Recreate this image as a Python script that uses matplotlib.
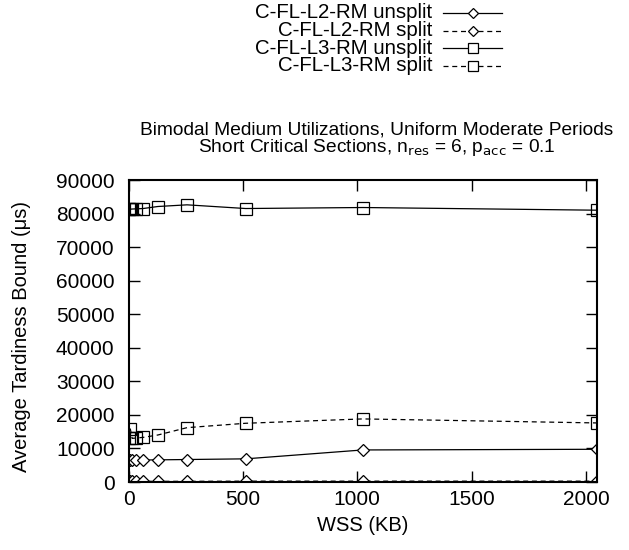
import matplotlib
matplotlib.use("Agg")
import matplotlib.pyplot as plt
from matplotlib.lines import Line2D

plt.rcParams['font.family'] = ['Liberation Sans', 'DejaVu Sans']

wss = [4, 8, 16, 32, 64, 128, 256, 512, 1024, 2048]
l2_unsplit = [6550, 6550, 6550, 6550, 6550, 6600, 6700, 6900, 9550, 9750]
l2_split = [200, 200, 200, 200, 200, 200, 200, 250, 250, 250]
l3_unsplit = [81300, 81300, 81350, 81400, 81500, 82100, 82600, 81500, 81800, 81000]
l3_split = [13000, 15800, 13000, 13100, 13300, 14000, 16200, 17500, 18800, 17600]
labels = ['C-FL-L2-RM unsplit', 'C-FL-L2-RM split', 'C-FL-L3-RM unsplit', 'C-FL-L3-RM split']

x_ticks = [0, 500, 1000, 1500, 2000]
y_ticks = [0, 10000, 20000, 30000, 40000, 50000, 60000, 70000, 80000, 90000]

W, H = 629, 550
fig = plt.figure(figsize=(W / 100, H / 100), dpi=100)
ax = fig.add_axes([128.5 / W, 1 - 482 / H, (597 - 128.5) / W, (482 - 180) / H])

FS = 15
lw = 0.9
styles = [
    dict(ls='-', marker='D', ms=6.5, mfc='white'),
    dict(ls=(0, (4, 3)), marker='D', ms=6.5, mfc='white'),
    dict(ls='-', marker='s', ms=8, mfc='none'),
    dict(ls=(0, (4, 3)), marker='s', ms=8, mfc='none'),
]
series = [l2_unsplit, l2_split, l3_unsplit, l3_split]
for ys, st, lab in zip(series, styles, labels):
    ax.plot(wss, ys, color='black', lw=lw, mec='black', mew=0.9, label=lab, **st)

ax.set_xlim(0, 2048)
ax.set_ylim(0, 90000)
ax.set_xticks(x_ticks)
ax.set_yticks(y_ticks)
ax.tick_params(direction='in', top=True, right=True, length=8, width=1, labelsize=FS)
ax.tick_params(axis='x', pad=6)
ax.tick_params(axis='y', pad=10)
for s in ax.spines.values():
    s.set_linewidth(1.5)

ax.set_xlabel('WSS (KB)', fontsize=14.5, labelpad=5)
ax.set_ylabel('Average Tardiness Bound (\u03bcs)', fontsize=14.5)
ax.yaxis.set_label_coords((31 - 128.5) / 468.5, (482 - 336.5) / 302)

# title (two lines)
TFS = 13.8
fig.text(377 / W, 1 - 130 / H, 'Bimodal Medium Utilizations, Uniform Moderate Periods',
         ha='center', va='center', fontsize=TFS)
fig.text(377 / W, 1 - 148 / H,
         'Short Critical Sections, n$_{\\mathrm{res}}$ = 6, p$_{\\mathrm{acc}}$ = 0.1',
         ha='center', va='center', fontsize=TFS)

# key, gnuplot style: text right-aligned, sample to the right
key_y = [13, 30.5, 48, 65.5]
for yk, st, lab in zip(key_y, styles, labels):
    fig.text(432 / W, 1 - yk / H, lab, ha='right', va='center', fontsize=FS - 0.3)
    yy = 1 - yk / H
    fig.add_artist(Line2D([443 / W, 502 / W], [yy, yy], transform=fig.transFigure,
                          color='black', lw=lw, ls=st['ls']))
    fig.add_artist(Line2D([472.5 / W], [yy], transform=fig.transFigure, color='black',
                          marker=st['marker'], ms=st['ms'] - 1.5, mfc='white', mec='black', mew=0.9,
                          ls='none'))

fig.savefig('out.png', dpi=100)
